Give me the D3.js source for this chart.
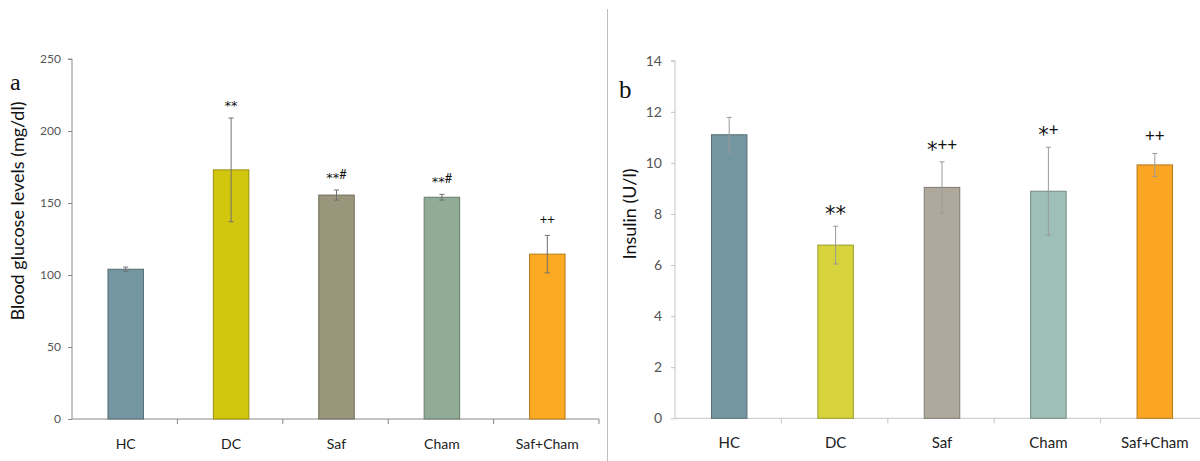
<!DOCTYPE html>
<html>
<head>
<meta charset="utf-8">
<script src="https://cdn.jsdelivr.net/npm/d3@7"></script>
<style>
  html, body { margin: 0; padding: 0; background: #fff; }
  svg { display: block; font-family: Lato, "Open Sans", sans-serif; }
</style>
</head>
<body>
<svg id="chart" width="1200" height="461"></svg>
<script>
// Treatment groups shared by both panels
const groups = ["HC", "DC", "Saf", "Cham", "Saf+Cham"];

// Panel a: blood glucose (mg/dl), mean and error
const glucoseMean = [104, 173, 155.5, 154, 114.5];
const glucoseErr = [1.5, 36, 3.5, 2, 13];
const glucoseMarks = ["", "**", "**#", "**#", "++"];
const glucoseTicks = [0, 50, 100, 150, 200, 250];

// Panel b: insulin (U/l), mean and error
const insulinMean = [11.1, 6.78, 9.04, 8.89, 9.92];
const insulinErr = [0.68, 0.74, 1.0, 1.72, 0.45];
const insulinMarks = ["", "**", "*++", "*+", "++"];
const insulinTicks = [0, 2, 4, 6, 8, 10, 12, 14];

const coloursA = ["#7496a0", "#d1c70f", "#9a967c", "#90ab96", "#fbaa22"];
const coloursB = ["#7496a0", "#d6d43a", "#afa89c", "#9dbfb7", "#fba524"];

const svg = d3.select("#chart");

function panel(opt) {
  const g = svg.append("g");
  const x = d3.scaleBand().domain(groups).range([opt.x0, opt.x1]).paddingInner(0).paddingOuter(0);
  const y = d3.scaleLinear().domain([0, opt.max]).range([opt.y0, opt.y1]);
  const bw = 35.5;

  // y axis
  const ya = g.append("g").attr("transform", `translate(${opt.x0},0)`)
    .call(d3.axisLeft(y).tickValues(opt.ticks).tickSize(4).tickPadding(opt.tickPad));
  ya.select(".domain").attr("stroke", opt.axisColor).attr("d", `M-4,${y(opt.max)}H0V${y(0)}`);
  ya.selectAll(".tick line").attr("stroke", opt.axisColor);
  ya.selectAll(".tick text").attr("fill", "#555").style("font-size", opt.tickFont + "px")
    .style("font-family", "Lato, sans-serif");

  // x axis baseline with separators between groups
  const xa = g.append("g").attr("transform", `translate(0,${y(0)})`);
  xa.append("line").attr("x1", opt.x0).attr("x2", opt.x1).attr("y1", 0).attr("y2", 0)
    .attr("stroke", opt.axisColor);
  xa.selectAll("line.sep").data(groups.slice(1).concat(opt.closeEnd ? ["_end"] : []))
    .join("line").attr("class", "sep")
    .attr("x1", d => d === "_end" ? opt.x1 : x(d)).attr("x2", d => d === "_end" ? opt.x1 : x(d))
    .attr("y1", 0).attr("y2", 5).attr("stroke", opt.axisColor);
  xa.selectAll("text").data(groups).join("text")
    .attr("x", d => x(d) + x.bandwidth() / 2 + 1)
    .attr("y", opt.labelDy)
    .attr("text-anchor", "middle")
    .attr("fill", "#222")
    .style("font-size", opt.catFont + "px")
    .text(d => d);

  // bars
  g.selectAll("rect.bar").data(groups).join("rect").attr("class", "bar")
    .attr("x", d => x(d) + x.bandwidth() / 2 + 1 - bw / 2)
    .attr("width", bw)
    .attr("y", (d, i) => y(opt.mean[i]))
    .attr("height", (d, i) => y(0) - y(opt.mean[i]))
    .attr("fill", (d, i) => opt.colours[i])
    .attr("stroke", (d, i) => d3.color(opt.colours[i]).darker(0.9))
    .attr("stroke-width", 1);

  // error bars
  const eb = g.selectAll("g.err").data(groups).join("g").attr("class", "err")
    .attr("transform", d => `translate(${x(d) + x.bandwidth() / 2 + 1},0)`);
  eb.append("line").attr("x1", 0).attr("x2", 0)
    .attr("y1", (d, i) => y(opt.mean[i] + opt.err[i]))
    .attr("y2", (d, i) => y(opt.mean[i] - opt.err[i]))
    .attr("stroke", opt.errColor);
  [1, -1].forEach(s => {
    eb.append("line").attr("x1", -2.5).attr("x2", 2.5)
      .attr("y1", (d, i) => y(opt.mean[i] + s * opt.err[i]))
      .attr("y2", (d, i) => y(opt.mean[i] + s * opt.err[i]))
      .attr("stroke", opt.errColor);
  });

  // significance marks above error bars
  const mk = g.selectAll("text.mark").data(groups).join("text").attr("class", "mark")
    .attr("x", d => x(d) + x.bandwidth() / 2 + 1)
    .attr("y", (d, i) => y(opt.mean[i] + opt.err[i]) - opt.markGap)
    .attr("text-anchor", "middle")
    .attr("fill", "#111");
  mk.each(function (d, i) {
    const t = d3.select(this);
    const chars = opt.marks[i].split("");
    let prev = null;
    chars.forEach(c => {
      const star = c === "*";
      const size = star ? opt.starFont : opt.otherFont;
      // centre each glyph on the same line: asterisks sit high, others mid-height
      const lift = star ? 0.58 * size : (c === "#" ? 0.36 * size : 0.34 * size);
      const dy = prev === null ? lift : lift - prev;
      t.append("tspan")
        .style("font-size", size + "px")
        .style("font-family", star ? "'DejaVu Sans', sans-serif" : "Lato, sans-serif")
        .attr("dy", dy).text(c);
      prev = lift;
    });
  });

  // panel letter and axis title
  g.append("text").attr("x", opt.letterX).attr("y", opt.letterY)
    .style("font-family", "'Liberation Serif', serif").style("font-size", opt.letterFont + "px")
    .attr("fill", "#111").text(opt.letter);
  g.append("text")
    .attr("transform", `translate(${opt.titleX},${opt.titleY}) rotate(-90)`)
    .attr("text-anchor", "middle").attr("fill", "#111")
    .style("font-size", opt.titleFont + "px").text(opt.title);
}

panel({
  x0: 72, x1: 599, y0: 419, y1: 59, max: 250, ticks: glucoseTicks,
  mean: glucoseMean, err: glucoseErr, marks: glucoseMarks, colours: coloursA,
  axisColor: "#8a8a8a", errColor: "#6f6f6f", tickFont: 12, tickPad: 7, catFont: 14, labelDy: 30,
  starFont: 13, otherFont: 13, markGap: 16, closeEnd: true,
  letter: "a", letterX: 10, letterY: 90, letterFont: 24,
  title: "Blood glucose levels (mg/dl)", titleX: 24, titleY: 211, titleFont: 18
});

panel({
  x0: 675, x1: 1207, y0: 418.3, y1: 60.7, max: 14, ticks: insulinTicks,
  mean: insulinMean, err: insulinErr, marks: insulinMarks, colours: coloursB,
  axisColor: "#c4c4c4", errColor: "#9a9a9a", tickFont: 14, tickPad: 9, catFont: 15, labelDy: 30,
  starFont: 21, otherFont: 17, markGap: 17, closeEnd: false,
  letter: "b", letterX: 619, letterY: 98, letterFont: 25,
  title: "Insulin (U/l)", titleX: 636, titleY: 214, titleFont: 18
});

// divider between the two panels
svg.append("line").attr("x1", 607.5).attr("x2", 607.5).attr("y1", 9).attr("y2", 461)
  .attr("stroke", "#bdbdbd");
</script>
</body>
</html>
